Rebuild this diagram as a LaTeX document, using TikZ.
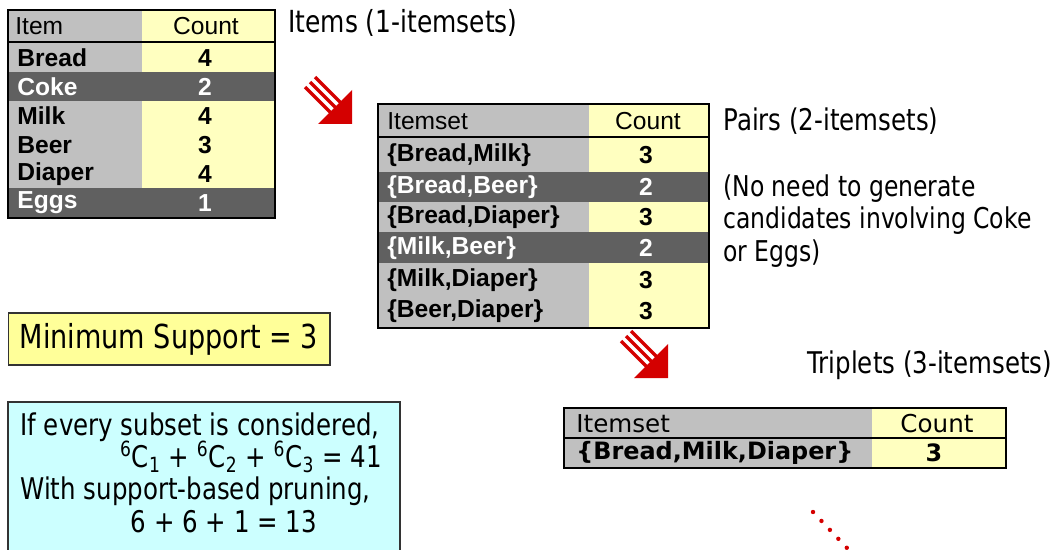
\documentclass[tikz,border=0pt]{standalone}
\usepackage{fontspec}
\setmainfont{Liberation Sans}
\newfontfamily\tahoma[FakeStretch=0.82]{DejaVu Sans}
\newfontfamily\verdana{DejaVu Sans}
\usepackage{xcolor}
\definecolor{cellGray}{HTML}{C0C0C0}
\definecolor{cellDark}{HTML}{606060}
\definecolor{cellYellow}{HTML}{FFFFC0}
\definecolor{noteYellow}{HTML}{FFFF99}
\definecolor{noteCyan}{HTML}{CCFFFF}
\definecolor{arrowRed}{HTML}{D40000}
\usepackage{tikz}
\usetikzlibrary{positioning}
\tikzset{
	tblline/.style={draw=black, line width=1.3pt},
	hdr/.style={font=\fontsize{14}{16}\selectfont, inner sep=0pt},
	lbl/.style={font=\fontsize{14}{16}\selectfont\bfseries, inner sep=0pt, anchor=west},
	cnt/.style={font=\fontsize{14}{16}\selectfont\bfseries, inner sep=0pt},
	rowlite/.style={text=black},
	rowdark/.style={text=white},
	note/.style={font=\tahoma\fontsize{17}{18.7}\selectfont, inner sep=0pt, anchor=west, align=left},
	boxline/.style={text height=11pt, text depth=2pt},
	redarrow/.pic={
		\fill[arrowRed] (0,0) -- (0,-34) -- (-34,0) -- cycle;
		\foreach \o in {-5,0,5}
			\draw[arrowRed, line width=0.065cm] (-42+\o,-42-\o) -- (-14+\o,-14-\o);
	}
}

\begin{document}
\begin{tikzpicture}[x=0.02cm, y=-0.02cm]
		\useasboundingbox (0,0) rectangle (1054,550);

		% items
		\fill[cellGray] (8,10) rectangle (142,218);
		\fill[cellYellow] (142,10) rectangle (275,218);
		\fill[cellDark] (8,72) rectangle (275,101);
		\fill[cellDark] (8,188) rectangle (275,218);
		\draw[tblline] (8,10) rectangle (275,218);
		\draw[tblline] (8,42) -- (275,42);
		\node[hdr, anchor=west] (ih) at (15,26) {Item};
		\node[hdr] (ihc) at (206,26) {Count};
		\foreach \lab/\num/\yy/\st [count=\k] in {Bread/4/58/rowlite, Coke/2/87/rowdark, Milk/4/116/rowlite, Beer/3/145/rowlite, Diaper/4/174/rowlite, Eggs/1/203/rowdark}{
			\node[lbl, \st] (it\k) at (17,\yy) {\lab};
			\node[cnt, \st] (ic\k) at (205,\yy) {\num};
		}
		\node[note, font=\tahoma\fontsize{17.3}{18}\selectfont] (t1) at (288,23) {Items (1-itemsets)};

		% pairs
		\fill[cellGray] (378,104) rectangle (589,328);
		\fill[cellYellow] (589,104) rectangle (709,328);
		\fill[cellDark] (378,172) rectangle (709,202);
		\fill[cellDark] (378,232) rectangle (709,263);
		\draw[tblline] (378,104) rectangle (709,328);
		\draw[tblline] (378,137) -- (709,137);
		\node[hdr, anchor=west] (ph) at (387,121) {Itemset};
		\node[hdr] (phc) at (648,121) {Count};
		\foreach \lab/\num/\yy/\st [count=\k] in {{\{Bread,Milk\}}/3/155/rowlite, {\{Bread,Beer\}}/2/187/rowdark, {\{Bread,Diaper\}}/3/217/rowlite, {\{Milk,Beer\}}/2/248/rowdark, {\{Milk,Diaper\}}/3/280/rowlite, {\{Beer,Diaper\}}/3/311/rowlite}{
			\node[lbl, \st] (pt\k) at (387,\yy) {\lab};
			\node[cnt, \st] (pc\k) at (646,\yy) {\num};
		}
		\node[note, font=\tahoma\fontsize{17}{18}\selectfont] (t2) at (723,121) {Pairs (2-itemsets)};
		\node[note, font=\tahoma\fontsize{16.3}{18.7}\selectfont] (t2n) at (723,221) {(No need to generate\\candidates involving Coke\\or Eggs)};

		% triplets
		\fill[cellGray] (564,408) rectangle (872,468);
		\fill[cellYellow] (872,408) rectangle (1006,468);
		\draw[tblline] (564,408) rectangle (1006,468);
		\draw[tblline] (564,438) -- (1006,438);
		\node[hdr, anchor=west, font=\verdana\fontsize{14}{15}\selectfont] (th) at (576,424) {Itemset};
		\node[hdr, font=\verdana\fontsize{14}{15}\selectfont] (thc) at (937,424) {Count};
		\node[lbl, font=\verdana\fontsize{13.6}{15}\selectfont\bfseries] (tt1) at (576,453) {\{Bread,Milk,Diaper\}};
		\node[cnt, font=\verdana\fontsize{13.6}{15}\selectfont\bfseries] (tc1) at (934,453) {3};
		\node[note, font=\tahoma\fontsize{17}{18}\selectfont] (t3) at (807,365) {Triplets (3-itemsets)};

		\pic at (352,124) {redarrow};
		\pic at (668,378) {redarrow};

		% notes
		\node[draw=black!80, line width=.6pt, fill=noteYellow, minimum width=6.44cm, minimum height=1.04cm,
			font=\tahoma\fontsize{18.8}{20}\selectfont] (minsup) at (169,339) {Minimum Support = 3};
		\draw[draw=black!80, line width=.6pt, fill=noteCyan] (8,402) rectangle (400,560);
		\node[note, boxline] (b1) at (20,428) {If every subset is considered,};
		\node[note, boxline, anchor=east] (b2) at (382,460) {\textsuperscript{6}C\textsubscript{1} + \textsuperscript{6}C\textsubscript{2} + \textsuperscript{6}C\textsubscript{3} = 41};
		\node[note, boxline] (b3) at (20,492) {With support-based pruning,};
		\node[note, boxline, anchor=center] (b4) at (224,525) {6 + 6 + 1 = 13};

		\coordinate (d0) at (813,512);
		\coordinate (d1) at (847,548);
		\draw[arrowRed, line width=2.5pt, dash pattern=on 0pt off 7pt, line cap=round] (d0) -- (d1);
	\end{tikzpicture}
\end{document}
